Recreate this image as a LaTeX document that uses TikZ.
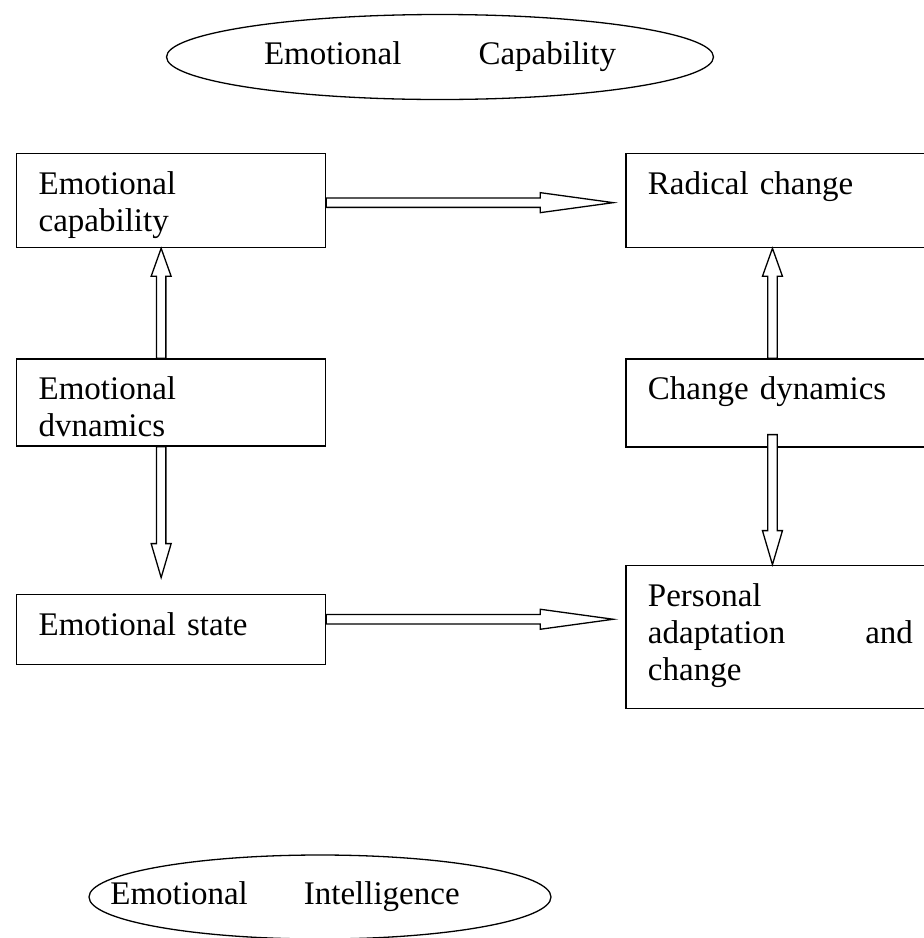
\documentclass[tikz,border=0pt]{standalone}
\usepackage{fontspec}
\setmainfont{Liberation Serif}
\usetikzlibrary{shapes.geometric, positioning, calc}

\begin{document}
\begin{tikzpicture}[
    x=1pt, y=-1pt,
    font=\fontsize{33}{37}\selectfont,
    stage/.style={rectangle, draw, line width=1.3pt, text width=265pt,
                  inner xsep=22pt, inner ysep=0pt, align=left, text height=41pt},
    oval/.style={ellipse, draw, line width=1.3pt, inner sep=0pt},
    fatarrow/.style={draw, fill=white, line width=1.3pt, to path={
        let \p1=(\tikztostart), \p2=(\tikztotarget),
            \n1={veclen(\x2-\x1,\y2-\y1)}, \n2={atan2(\y2-\y1,\x2-\x1)} in
        {[shift={(\p1)}, rotate=\n2]
         (0pt,-4.7pt) -- (\n1-#1,-4.7pt) -- (\n1-#1,-10pt) -- (\n1,0pt)
         -- (\n1-#1,10pt) -- (\n1-#1,4.7pt) -- (0pt,4.7pt) -- cycle}}},
    fatarrow/.default=30pt
]
    \useasboundingbox (0,0) rectangle (924,938);
    \clip (0,0) rectangle (924,938);

    % Ovals
    \node[oval, minimum width=547pt, minimum height=85pt,
          label={center:Emotional\hskip77pt Capability}] (capab) at (440,57) {};
    \node[oval, minimum width=462pt, minimum height=84pt,
          label={[xshift=-35pt]center:Emotional\hskip56pt Intelligence}] (intell) at (320,897) {};

    % Left column
    \node[stage, text depth=53pt, anchor=north west] (cap) at (16,153) {Emotional\\capability};
    \node[stage, text depth=46pt, below=110pt of cap] (dyn) {Emotional\\dvnamics};
    \node[stage, text depth=29pt, below=147pt of dyn] (state) {Emotional state};

    % Right column
    \node[stage, text depth=53pt, right=299pt of cap] (radical) {Radical change};
    \node[stage, text depth=47pt, below=110pt of radical] (chdyn) {Change dynamics};
    \node[stage, text depth=102pt, below=117pt of chdyn] (pers) {Personal\\adaptation\hfill and\\change};

    % Arrows
    \draw[fatarrow=73pt] ([yshift=-2pt]cap.east) to ([yshift=-2pt, xshift=-12pt]radical.west);
    \draw[fatarrow=73pt] ([yshift=10pt]state.east) to ($(state.east -| pers.west)+(-12pt,10pt)$);
    \draw[fatarrow=28pt] ([xshift=-10pt]dyn.north) to ([xshift=-10pt]cap.south);
    \draw[fatarrow=34pt] ([xshift=-10pt]dyn.south) to ([xshift=-10pt, yshift=16pt]state.north);
    \draw[fatarrow=28pt] ([xshift=-8pt]chdyn.north) to ([xshift=-8pt]radical.south);
    \draw[fatarrow=34pt] ([xshift=-8pt, yshift=13pt]chdyn.south) to ([xshift=-8pt]pers.north);
\end{tikzpicture}
\end{document}
